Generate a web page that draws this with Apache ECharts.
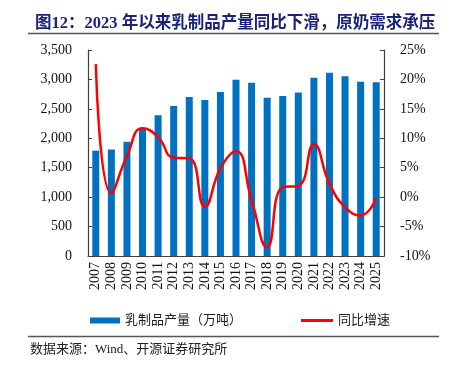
<!DOCTYPE html>
<html><head><meta charset="utf-8">
<script src="https://cdn.jsdelivr.net/npm/echarts@6/dist/echarts.min.js"></script>
<style>html,body{margin:0;padding:0;background:#fff}#c{width:453px;height:369px}</style>
</head><body><div id="c"></div>
<script>
var years = ['2007','2008','2009','2010','2011','2012','2013','2014','2015','2016','2017','2018','2019','2020','2021','2022','2023','2024','2025'];
var output = [1790,1810,1940,2160,2390,2550,2700,2650,2785,2995,2945,2690,2720,2780,3030,3115,3055,2960,2950];
var growth = [22.6,0.7,7.0,11.7,10.2,6.7,6.6,-1.6,4.9,7.8,-0.5,-8.5,1.7,1.9,9.0,2.3,-1.7,-3.1,-0.2];
var leftTicks = {min:0, max:3500, step:500};
var rightTicks = {min:-10, max:25, step:5};
var titleText = '图12：2023 年以来乳制品产量同比下滑，原奶需求承压';
var sourceText = '数据来源：Wind、开源证券研究所';
var barName = '乳制品产量（万吨）';
var lineName = '同比增速';

var serif = '"Liberation Serif","Noto Sans CJK SC",serif';
var cjk = '"Liberation Serif","Noto Sans CJK SC",sans-serif';
var axisColor = '#404040';
var chart = echarts.init(document.getElementById('c'), null, {renderer:'canvas'});
chart.setOption({
  animation:false,
  title:{text:titleText,left:30,top:10,textStyle:{fontFamily:cjk,fontSize:16.5,fontWeight:'bold',color:'#1b2378'}},
  graphic:[
    {type:'line',shape:{x1:28,y1:33.5,x2:439,y2:33.5},style:{stroke:'#555',lineWidth:1.5}},
    {type:'line',shape:{x1:28,y1:336.5,x2:439,y2:336.5},style:{stroke:'#555',lineWidth:1.5}},
    {type:'text',left:30,top:343,style:{text:sourceText,font:'13px '+cjk,fill:'#222'}}
  ],
  legend:[
    {data:[{name:barName,icon:'rect'}],left:85,top:309,itemWidth:30,itemHeight:6,itemGap:4,textStyle:{fontFamily:cjk,fontSize:13,color:'#222'}},
    {data:[{name:lineName,icon:'rect'}],left:296,top:309,itemWidth:32,itemHeight:3,textStyle:{fontFamily:cjk,fontSize:13,color:'#222'}}
  ],
  grid:{left:88,right:69,top:50,bottom:113},
  xAxis:{type:'category',data:years,
    axisLine:{lineStyle:{color:axisColor,width:1.2}},
    axisTick:{inside:true,length:4,lineStyle:{color:axisColor}},
    axisLabel:{rotate:90,interval:0,fontFamily:serif,fontSize:14,color:'#111',margin:6}},
  yAxis:[
    {type:'value',min:leftTicks.min,max:leftTicks.max,interval:leftTicks.step,
     axisLine:{show:true,lineStyle:{color:axisColor,width:1.2}},
     axisTick:{show:true,inside:true,length:4,lineStyle:{color:axisColor}},
     splitLine:{show:false},
     axisLabel:{fontFamily:serif,fontSize:14,color:'#111',margin:16,
       formatter:function(v){return v.toLocaleString('en-US');}}},
    {type:'value',min:rightTicks.min,max:rightTicks.max,interval:rightTicks.step,
     axisLine:{show:true,lineStyle:{color:axisColor,width:1.2}},
     axisTick:{show:true,inside:true,length:4,lineStyle:{color:axisColor}},
     splitLine:{show:false},
     axisLabel:{fontFamily:serif,fontSize:14,color:'#111',margin:16,formatter:'{value}%'}}
  ],
  series:[
    {name:barName,type:'bar',data:output,barWidth:7,itemStyle:{color:'#0070C0'}},
    {name:lineName,type:'line',yAxisIndex:1,data:growth,smooth:0.5,symbol:'none',
     lineStyle:{color:'#FF0000',width:2.5},itemStyle:{color:'#FF0000'}}
  ]
});
</script></body></html>
